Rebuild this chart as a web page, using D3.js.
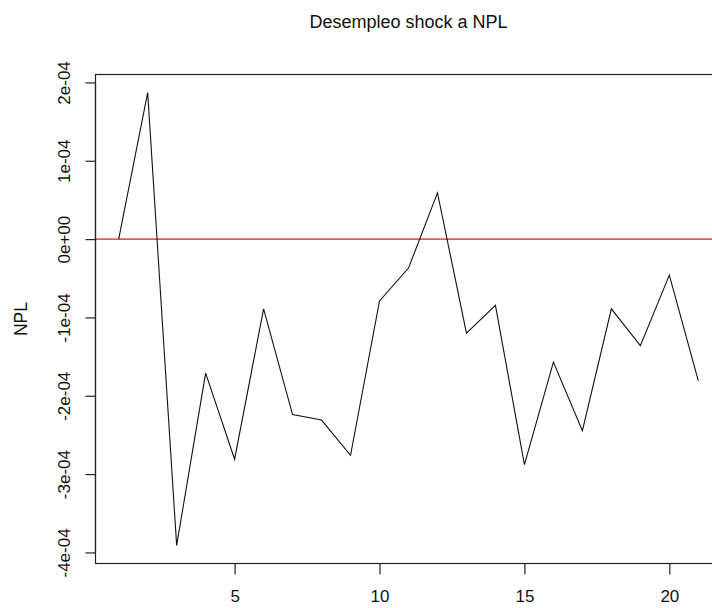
<!DOCTYPE html>
<html>
<head>
<meta charset="utf-8">
<script src="https://cdn.jsdelivr.net/npm/d3@7"></script>
<style>
  html, body { margin: 0; padding: 0; background: #fff; }
  svg { display: block; font-family: "Liberation Sans", Arial, sans-serif; }
</style>
</head>
<body>
<svg id="chart" width="712" height="608"></svg>
<script>
// Impulse response: unemployment shock on NPL, periods 1..21
const periods = [1, 2, 3, 4, 5, 6, 7, 8, 9, 10, 11, 12, 13, 14, 15, 16, 17, 18, 19, 20, 21];
const npl = [
  0.0e-4, 1.87e-4, -3.91e-4, -1.71e-4, -2.81e-4, -0.89e-4, -2.24e-4,
  -2.31e-4, -2.76e-4, -0.79e-4, -0.37e-4, 0.59e-4, -1.20e-4, -0.845e-4,
  -2.88e-4, -1.57e-4, -2.445e-4, -0.89e-4, -1.36e-4, -0.46e-4, -1.81e-4
];
const xTicks = [5, 10, 15, 20];
const yTicks = [-4e-4, -3e-4, -2e-4, -1e-4, 0, 1e-4, 2e-4];
const yTickLabels = ["-4e-04", "-3e-04", "-2e-04", "-1e-04", "0e+00", "1e-04", "2e-04"];
const titleText = "Desempleo shock a NPL";
const yLabel = "NPL";

const svg = d3.select("#chart");
const plotLeft = 95.5, plotRight = 721.5, plotTop = 74.5, plotBottom = 563.5;

// 4% padding around the data range on both axes
const xMin = d3.min(periods), xMax = d3.max(periods);
const xPad = (xMax - xMin) * 0.04;
const x = d3.scaleLinear().domain([xMin - xPad, xMax + xPad]).range([plotLeft, plotRight]);

const yMin = d3.min(npl), yMax = d3.max(npl);
const yPad = (yMax - yMin) * 0.04;
const y = d3.scaleLinear().domain([yMin - yPad, yMax + yPad]).range([plotBottom, plotTop]);

const ink = "#222";

// Zero reference line
svg.append("line")
  .attr("x1", plotLeft).attr("x2", plotRight)
  .attr("y1", y(0)).attr("y2", y(0))
  .attr("stroke", "#e8191c").attr("stroke-width", 1.1);

// Response series
svg.append("path")
  .datum(periods.map((p, i) => [p, npl[i]]))
  .attr("fill", "none")
  .attr("stroke", "#111")
  .attr("stroke-width", 1.1)
  .attr("stroke-linejoin", "miter")
  .attr("d", d3.line().x(d => x(d[0])).y(d => y(d[1])));

// Plot frame
svg.append("rect")
  .attr("x", plotLeft).attr("y", plotTop)
  .attr("width", plotRight - plotLeft).attr("height", plotBottom - plotTop)
  .attr("fill", "none").attr("stroke", ink).attr("stroke-width", 1.2);

// Bottom axis
const xAxis = d3.axisBottom(x).tickValues(xTicks).tickSize(11).tickPadding(15)
  .tickFormat(d3.format("d"));
const gx = svg.append("g").attr("transform", `translate(0,${plotBottom})`).call(xAxis);
gx.select(".domain").attr("d", `M${x(xTicks[0])},0H${x(xTicks[xTicks.length - 1])}`)
  .attr("stroke", ink).attr("stroke-width", 1.2);
gx.selectAll(".tick line").attr("stroke", ink).attr("stroke-width", 1.2);
gx.selectAll(".tick text")
  .attr("fill", "#111").attr("font-size", 17)
  .attr("font-family", "Liberation Sans, Arial, sans-serif");

// Left axis with rotated labels
const yAxis = d3.axisLeft(y).tickValues(yTicks).tickSize(10)
  .tickFormat((d, i) => yTickLabels[i]);
const gy = svg.append("g").attr("transform", `translate(${plotLeft},0)`).call(yAxis);
gy.select(".domain").attr("d", `M0,${y(yTicks[0])}V${y(yTicks[yTicks.length - 1])}`)
  .attr("stroke", ink).attr("stroke-width", 1.2);
gy.selectAll(".tick line").attr("stroke", ink).attr("stroke-width", 1.2);
gy.selectAll(".tick text")
  .attr("fill", "#111").attr("font-size", 17)
  .attr("font-family", "Liberation Sans, Arial, sans-serif")
  .attr("x", null).attr("dy", null)
  .attr("text-anchor", "middle")
  .attr("transform", "translate(-26,0) rotate(-90)");

// Title
svg.append("text")
  .attr("x", (plotLeft + plotRight) / 2).attr("y", 28)
  .attr("text-anchor", "middle")
  .attr("font-size", 18)
  .attr("fill", "#111")
  .text(titleText);

// Y label
svg.append("text")
  .attr("transform", `translate(27,${(plotTop + plotBottom) / 2}) rotate(-90)`)
  .attr("text-anchor", "middle")
  .attr("font-size", 17.5)
  .attr("fill", "#111")
  .text(yLabel);
</script>
</body>
</html>
